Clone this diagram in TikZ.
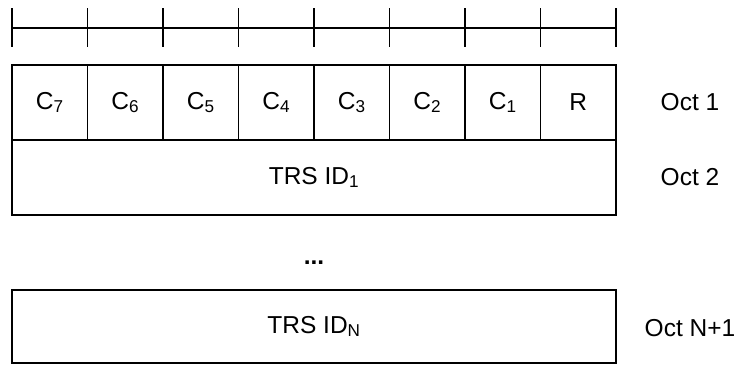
\documentclass[tikz,border=0pt]{standalone}
\usepackage{fontspec}
\setmainfont{Liberation Sans}
\usepackage{tikz}
\usetikzlibrary{positioning,calc}

\begin{document}
\begin{tikzpicture}[
  x=1pt, y=1pt,
  every node/.style = {font=\fontsize{24.5}{29}\selectfont},
  rulerline/.style  = {line width=1.4pt},
  bitcell/.style    = {rectangle, draw, line width=1.3pt, inner sep=0pt,
                       outer sep=0pt, minimum width=75.5pt, minimum height=75pt},
  octbox/.style     = {rectangle, draw, line width=1.3pt, inner sep=0pt,
                       outer sep=0pt, minimum width=604pt, minimum height=75pt},
  octlbl/.style     = {inner sep=1pt},
]
\useasboundingbox (0,0) rectangle (739,365);

% ── Bit ruler ────────────────────────────────────────────────
\draw[rulerline] (12,337) -- (616,337);
\foreach \k in {0,...,8}
  \draw[rulerline] ({12+75.5*\k},356.5) -- ({12+75.5*\k},318);

% ── Octet 1: bit cells ───────────────────────────────────────
\foreach \lbl [count=\k] in {7,6,5,4,3,2,1}
  \node[bitcell] (c\lbl) at ({12+75.5*(\k-0.5)},262.5) {C\textsubscript{\lbl}};
\node[bitcell, right=0pt of c1] (r) {R};

% ── Octets 2 and N+1 ─────────────────────────────────────────
\node[octbox, anchor=north west] (trs1) at (c7.south west) {TRS ID\textsubscript{1}};
\node[octbox, below=75pt of trs1, minimum height=73pt] (trsN) {TRS ID\textsubscript{N}};
\node (dots) at ($(trsN.north)+(0,27)$) {\textbf{...}};

% ── Octet labels ─────────────────────────────────────────────
\node[octlbl] (oct1) at ($(r.east)+(74,0)$)    {Oct 1};
\node[octlbl] (oct2) at ($(trs1.east)+(74,0)$) {Oct 2};
\node[octlbl] (octN) at ($(trsN.east)+(74,-2)$) {Oct N+1};

\end{tikzpicture}
\end{document}
